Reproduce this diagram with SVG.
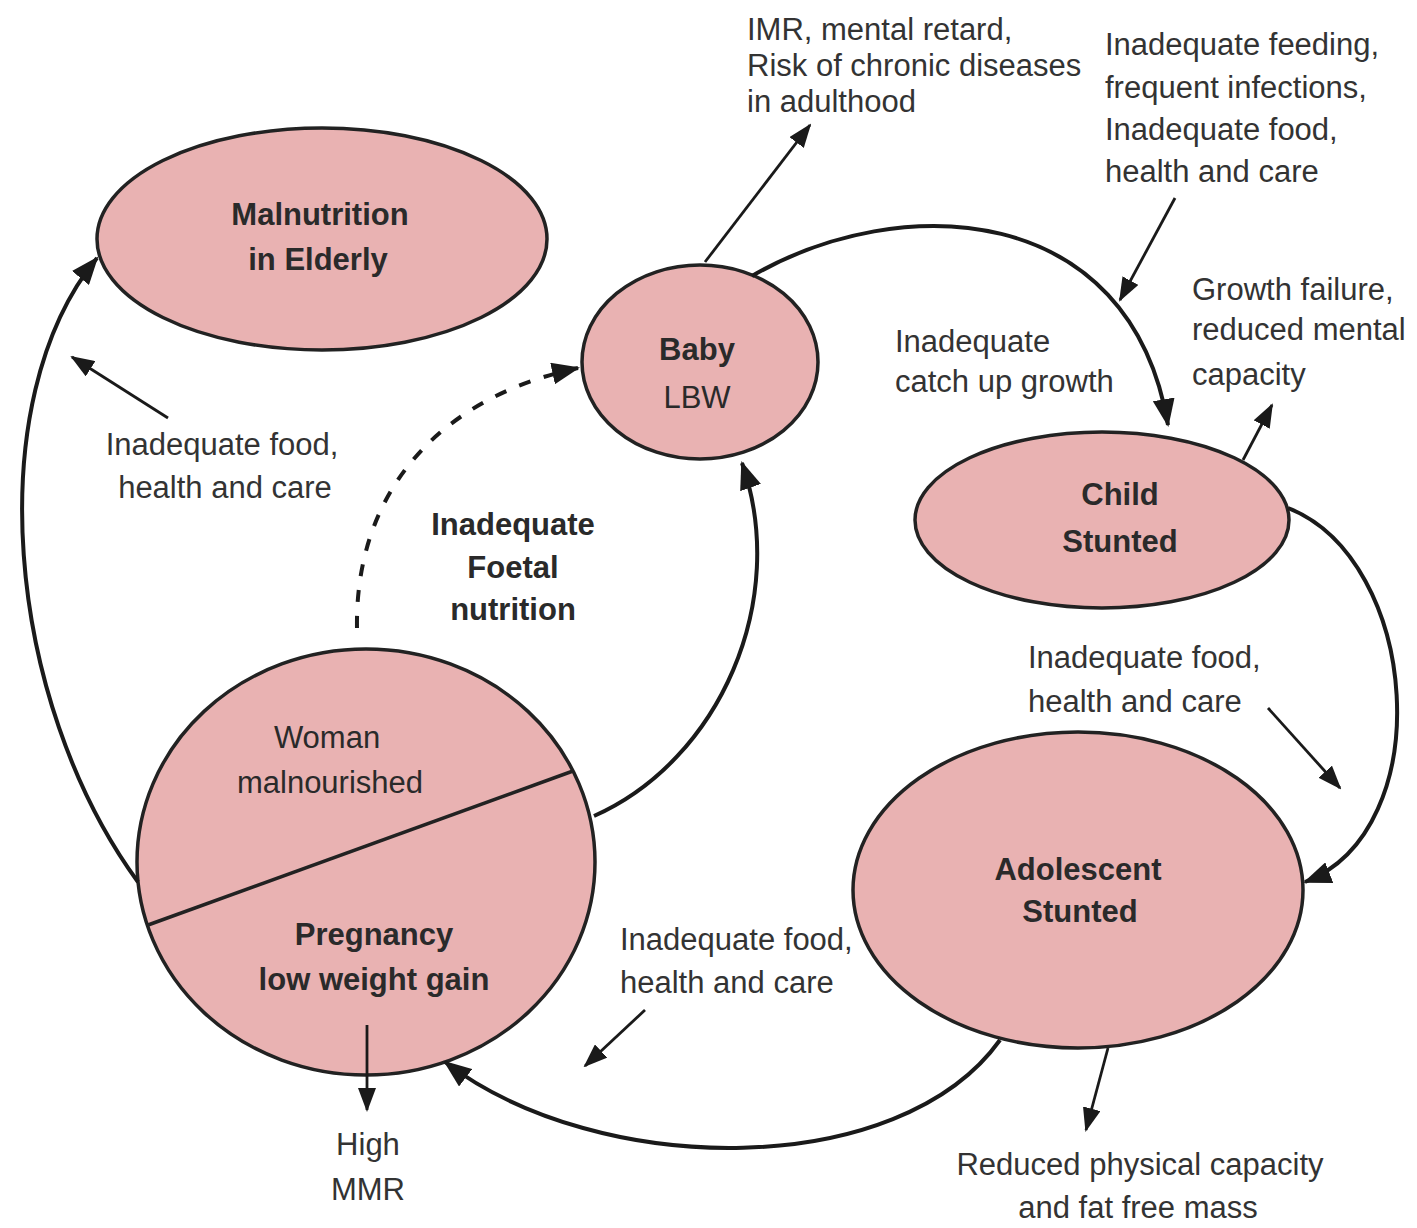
<svg xmlns="http://www.w3.org/2000/svg" width="1417" height="1228" viewBox="0 0 1417 1228">
<style>
.node{fill:#E9B2B2;stroke:#222;stroke-width:3.5}
.t{font-family:"Liberation Sans",Arial,sans-serif;fill:#2a2a2a}
.b{font-weight:bold}
.n{font-size:31px}
.lbl{font-family:"Liberation Sans",Arial,sans-serif;fill:#333;font-size:31px}
.c{fill:none;stroke:#1a1a1a;stroke-width:4}
.a{fill:none;stroke:#1a1a1a;stroke-width:2.8}
</style>
<defs>
<marker id="big" markerUnits="userSpaceOnUse" markerWidth="30" markerHeight="22" refX="26" refY="11" orient="auto"><path d="M0,0 L28,11 L0,22 z" fill="#1a1a1a"/></marker>
<marker id="sm" markerUnits="userSpaceOnUse" markerWidth="24" markerHeight="18" refX="22" refY="9" orient="auto"><path d="M0,0 L24,9 L0,18 z" fill="#1a1a1a"/></marker>
</defs>
<rect width="1417" height="1228" fill="#fff"/>
<g id="elderly">
<ellipse class="node" cx="322" cy="239" rx="225" ry="111"/>
<text class="t b n" x="320" y="225" text-anchor="middle">Malnutrition</text>
<text class="t b n" x="318" y="270" text-anchor="middle">in Elderly</text>
</g>
<g id="baby">
<ellipse class="node" cx="700" cy="362" rx="118" ry="97"/>
<text class="t b n" x="697" y="360" text-anchor="middle">Baby</text>
<text class="t n" x="697" y="408" text-anchor="middle">LBW</text>
</g>
<g id="child">
<ellipse class="node" cx="1102" cy="520" rx="187" ry="88"/>
<text class="t b n" x="1120" y="505" text-anchor="middle">Child</text>
<text class="t b n" x="1120" y="552" text-anchor="middle">Stunted</text>
</g>
<g id="adolescent">
<ellipse class="node" cx="1078" cy="890" rx="225" ry="158"/>
<text class="t b n" x="1078" y="880" text-anchor="middle">Adolescent</text>
<text class="t b n" x="1080" y="922" text-anchor="middle">Stunted</text>
</g>
<g id="woman">
<ellipse class="node" cx="366" cy="862" rx="229" ry="213"/>
<line x1="148" y1="925" x2="573" y2="771" stroke="#222" stroke-width="3.5"/>
<text class="t n" x="327" y="748" text-anchor="middle">Woman</text>
<text class="t n" x="330" y="793" text-anchor="middle">malnourished</text>
<text class="t b n" x="374" y="945" text-anchor="middle">Pregnancy</text>
<text class="t b n" x="374" y="990" text-anchor="middle">low weight gain</text>
</g>
<g id="connectors">
<path class="c" d="M138,882 C5,700 -20,400 97,258" marker-end="url(#big)"/>
<path class="c" d="M357,628 C355,500 430,400 578,368" stroke-dasharray="12,14" marker-end="url(#big)"/>
<path class="c" d="M594,816 C720,760 790,600 742,463" marker-end="url(#big)"/>
<path class="c" d="M752,276 C900,190 1130,200 1168,425" marker-end="url(#big)"/>
<path class="c" d="M1288,508 C1420,560 1440,830 1305,882" marker-end="url(#big)"/>
<path class="c" d="M1000,1040 C900,1180 600,1180 445,1062" marker-end="url(#big)"/>
<path class="a" d="M705,262 L810,125" marker-end="url(#sm)"/>
<path class="a" d="M168,418 L72,357" marker-end="url(#sm)"/>
<path class="a" d="M1175,198 L1120,300" marker-end="url(#sm)"/>
<path class="a" d="M1243,460 L1272,405" marker-end="url(#sm)"/>
<path class="a" d="M1268,708 L1340,788" marker-end="url(#sm)"/>
<path class="a" d="M645,1010 L585,1066" marker-end="url(#sm)"/>
<path class="a" d="M1108,1048 L1086,1130" marker-end="url(#sm)"/>
<path class="a" d="M367,1025 L367,1110" marker-end="url(#sm)"/>
</g>
<g id="labels">
<text class="t b n" text-anchor="middle"><tspan x="513" y="535">Inadequate</tspan><tspan x="513" y="578">Foetal</tspan><tspan x="513" y="620">nutrition</tspan></text>
<text class="lbl" text-anchor="middle"><tspan x="222" y="455">Inadequate food,</tspan><tspan x="225" y="498">health and care</tspan></text>
<text class="lbl"><tspan x="895" y="352">Inadequate</tspan><tspan x="895" y="392">catch up growth</tspan></text>
<text class="lbl"><tspan x="747" y="40">IMR, mental retard,</tspan><tspan x="747" y="76">Risk of chronic diseases</tspan><tspan x="747" y="112">in adulthood</tspan></text>
<text class="lbl"><tspan x="1105" y="55">Inadequate feeding,</tspan><tspan x="1105" y="98">frequent infections,</tspan><tspan x="1105" y="140">Inadequate food,</tspan><tspan x="1105" y="182">health and care</tspan></text>
<text class="lbl"><tspan x="1192" y="300">Growth failure,</tspan><tspan x="1192" y="340">reduced mental</tspan><tspan x="1192" y="385">capacity</tspan></text>
<text class="lbl"><tspan x="1028" y="668">Inadequate food,</tspan><tspan x="1028" y="712">health and care</tspan></text>
<text class="lbl"><tspan x="620" y="950">Inadequate food,</tspan><tspan x="620" y="993">health and care</tspan></text>
<text class="lbl" text-anchor="middle"><tspan x="368" y="1155">High</tspan><tspan x="368" y="1200">MMR</tspan></text>
<text class="lbl" text-anchor="middle"><tspan x="1140" y="1175">Reduced physical capacity</tspan><tspan x="1138" y="1218">and fat free mass</tspan></text>
</g>
</svg>
